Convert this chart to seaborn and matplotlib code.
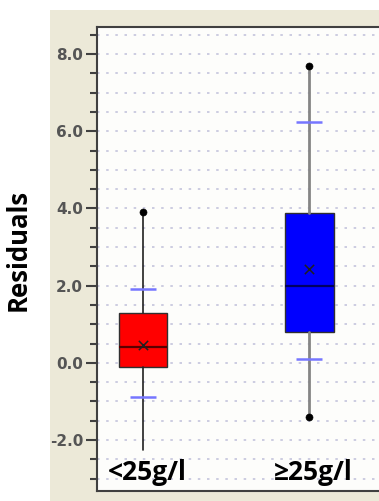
import matplotlib
matplotlib.use("Agg")
import matplotlib.pyplot as plt
from matplotlib.patches import Rectangle
from matplotlib.ticker import MultipleLocator, FormatStrFormatter
import seaborn as sns
import pandas as pd

# Summary statistics of the residuals per albumin group
groups = ["<25g/l", "\u226525g/l"]
q1 = [-0.1, 0.8]
median = [0.4, 2.0]
q3 = [1.3, 3.88]
mean = [0.45, 2.42]
whisker_low = [-2.27, -1.4]
whisker_high = [3.9, 7.7]
p10 = [-0.88, 0.1]
p90 = [1.9, 6.25]

# Extreme values drawn as dots at the whisker ends
extreme_group = [0, 1, 1]
extreme_value = [3.9, 7.7, -1.4]

box_colors = ["#ff0000", "#0000ff"]
median_colors = ["#5a0000", "#000060"]
whisker_colors = ["#202020", "#858585"]
whisker_widths = [1.2, 2.0]

sns.set_theme(style="white")
plt.rcParams["font.family"] = ["DejaVu Sans"]

fig = plt.figure(figsize=(3.79, 5.01), dpi=100)
fig.patch.set_facecolor("white")
panel = Rectangle((50 / 379, 0), 1, (501 - 10) / 501,
                  transform=fig.transFigure, facecolor="#ECE9D8",
                  edgecolor="none", zorder=-10)
fig.patches.append(panel)

ax = fig.add_axes([97 / 379, 10 / 501, 303 / 379, 464 / 501])
ax.set_zorder(1)
ax.set_facecolor("#FDFDFB")

stats = []
for i in range(len(groups)):
    stats.append(dict(label=groups[i], q1=q1[i], med=median[i], q3=q3[i],
                      whislo=whisker_low[i], whishi=whisker_high[i], fliers=[]))

for i, st in enumerate(stats):
    ax.bxp([st], positions=[i], widths=0.295, showcaps=False, patch_artist=True,
           boxprops=dict(facecolor=box_colors[i], edgecolor="#303030", linewidth=1.0),
           medianprops=dict(color=median_colors[i], linewidth=1.6),
           whiskerprops=dict(color=whisker_colors[i], linewidth=whisker_widths[i]),
           manage_ticks=False, zorder=3)

# 10th / 90th percentile marks
for i in range(len(groups)):
    for v in (p10[i], p90[i]):
        ax.hlines(v, i - 0.078, i + 0.078, color="#7676ff", linewidth=1.8, zorder=4)

means_df = pd.DataFrame({"pos": [0, 1], "mean": mean})
sns.scatterplot(data=means_df, x="pos", y="mean", marker="x", s=45,
                color="#202020", linewidth=1.1, ax=ax, zorder=5)

ext_df = pd.DataFrame({"pos": extreme_group, "value": extreme_value})
sns.scatterplot(data=ext_df, x="pos", y="value", marker="o", s=26,
                color="black", edgecolor="black", ax=ax, zorder=5)

ax.set_xlim(-0.277, 1.548)
ax.set_ylim(-3.32, 8.70)
ax.set_xticks([])
ax.set_xlabel("")
ax.yaxis.set_major_locator(MultipleLocator(2.0))
ax.yaxis.set_minor_locator(MultipleLocator(0.5))
ax.yaxis.set_major_formatter(FormatStrFormatter("%.1f"))
ax.tick_params(axis="y", which="major", left=True, length=8, width=1.5,
               color="#404040", labelsize=11, labelcolor="#555555", pad=2)
ax.tick_params(axis="y", which="minor", left=True, length=5, width=1.5,
               color="#404040")
for lbl in ax.get_yticklabels():
    lbl.set_fontweight("semibold")
ax.grid(True, axis="y", which="both", linestyle=(0, (1.5, 4)),
        color="#c4c4dc", linewidth=1.2, zorder=0)
ax.set_axisbelow(True)

for side in ("left", "bottom", "top"):
    ax.spines[side].set_color("#404040")
    ax.spines[side].set_linewidth(1.5)
ax.spines["right"].set_visible(False)

ax.set_ylabel("Residuals", fontsize=18.5, fontweight="bold",
              family=["Open Sans", "DejaVu Sans"], color="black")
ax.yaxis.set_label_coords(-0.215, 0.52)

for i, g in enumerate(groups):
    ax.text(i + 0.025, -2.85, g, ha="center", va="center", fontsize=19,
            fontweight="bold", family=["Open Sans", "DejaVu Sans"], color="black",
            zorder=6)

fig.savefig("out.png", dpi=100)
